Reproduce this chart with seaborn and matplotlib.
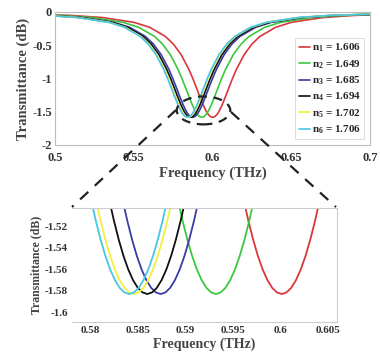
import numpy as np
import pandas as pd
import matplotlib
matplotlib.use('Agg')
import matplotlib.pyplot as plt
import seaborn as sns
from matplotlib.patches import Ellipse
from matplotlib.lines import Line2D

# ---------------- data ----------------
labels = ["n$_1$ = 1.606", "n$_2$ = 1.649", "n$_3$ = 1.685",
          "n$_4$ = 1.694", "n$_5$ = 1.702", "n$_6$ = 1.706"]
centers = [0.6001, 0.5932, 0.5874, 0.5860, 0.5846, 0.5841]   # THz, dip positions
colors = ['#d8383c', '#3cc83e', '#3b3ba6', '#111111', '#f2f03c', '#48c6e6']

# dip profile (offset from dip centre in THz, transmittance in dB)
offsets = [-0.12, -0.09, -0.07, -0.05, -0.04, -0.03, -0.025, -0.02, -0.015, -0.0125,
           -0.01, -0.008, -0.006, -0.0045, -0.004, -0.0035, -0.003, -0.0025, -0.002,
           -0.0015, -0.001, -0.0005, 0.0, 0.0005, 0.001, 0.0015, 0.002, 0.0025, 0.003,
           0.0035, 0.004, 0.0045, 0.006, 0.008, 0.01, 0.0125, 0.015, 0.02, 0.025, 0.03,
           0.04, 0.05, 0.07, 0.09, 0.12]
profile_db = [-0.0294, -0.0515, -0.0833, -0.1555, -0.2302, -0.3676, -0.4803, -0.6411,
              -0.8667, -1.0058, -1.1578, -1.2817, -1.3981, -1.4734, -1.4951, -1.5148,
              -1.5323, -1.5475, -1.5601, -1.5700, -1.5772, -1.5815, -1.5830, -1.5815,
              -1.5772, -1.5700, -1.5601, -1.5475, -1.5323, -1.5148, -1.4951, -1.4734,
              -1.3981, -1.2817, -1.1578, -1.0058, -0.8667, -0.6411, -0.4803, -0.3676,
              -0.2302, -0.1555, -0.0833, -0.0515, -0.0294]

top_xticks = [0.5, 0.55, 0.6, 0.65, 0.7]
top_yticks = [0, -0.5, -1, -1.5, -2]
top_yticklabels = ['0', '-0.5', '-1', '-1.5', '-2']
bot_xticks = [0.58, 0.585, 0.59, 0.595, 0.6, 0.605]
bot_xticklabels = ['0.58', '0.585', '0.59', '0.595', '0.6', '0.605']
bot_yticks = [-1.52, -1.54, -1.56, -1.58, -1.6]
bot_yticklabels = ['-1.52', '-1.54', '-1.56', '-1.58', '-1.6']

rows = []
for lab, c in zip(labels, centers):
    for o, v in zip(offsets, profile_db):
        rows.append((lab, c + o, v))
df = pd.DataFrame(rows, columns=['label', 'freq', 'dB'])

# ---------------- style ----------------
sns.set_style('white')
plt.rcParams['font.family'] = ['Liberation Serif', 'DejaVu Serif']
plt.rcParams['font.weight'] = 'bold'
plt.rcParams['mathtext.fontset'] = 'custom'
plt.rcParams['mathtext.rm'] = 'Liberation Serif:bold'
plt.rcParams['mathtext.it'] = 'Liberation Serif:bold'
plt.rcParams['mathtext.bf'] = 'Liberation Serif:bold'

W, H = 380, 354
fig = plt.figure(figsize=(W / 100, H / 100), dpi=100)

def fx(px):
    return px / W

def fy(py):
    return 1 - py / H

palette = dict(zip(labels, colors))

# ---------------- top axes ----------------
ax1 = fig.add_axes([fx(55), fy(145), fx(370) - fx(55), fy(12) - fy(145)])
sns.lineplot(data=df, x='freq', y='dB', hue='label', palette=palette,
             estimator=None, sort=False, lw=1.2, ax=ax1)
ax1.set_xlim(0.5, 0.7)
ax1.set_ylim(-2, 0)
ax1.set_xticks(top_xticks)
ax1.set_xticklabels([str(t) for t in top_xticks])
ax1.set_yticks(top_yticks)
ax1.set_yticklabels(top_yticklabels)
ax1.tick_params(axis='y', direction='in', length=2, labelsize=9, pad=2, colors='#333333')
ax1.tick_params(axis='x', direction='in', length=2, labelsize=9, pad=5, colors='#333333')
for lab in ax1.get_xticklabels() + ax1.get_yticklabels():
    lab.set_fontweight('bold')
ax1.set_xlabel('Frequency (THz)', fontsize=10.5, fontweight='bold', color='#444444', labelpad=2)
ax1.set_ylabel('Transmittance (dB)', fontsize=10.5, fontweight='bold', color='#444444', labelpad=2)
for s in ax1.spines.values():
    s.set_color('#bbbbbb')
    s.set_linewidth(0.8)
leg = ax1.legend(loc='lower right', fontsize=8, frameon=True, handlelength=1.0,
                 handletextpad=0.2, labelspacing=0.35, borderpad=0.3,
                 prop={'weight': 'bold', 'size': 8})
leg.get_frame().set_edgecolor('#cccccc')
leg.get_frame().set_linewidth(0.6)
leg.get_frame().set_boxstyle('square', pad=0.0)

ell = Ellipse((0.5943, -1.48), width=0.034, height=0.42, fill=False, ls=(0, (4, 3)),
              lw=1.6, ec='#222222', clip_on=False, zorder=5)
ax1.add_patch(ell)

# ---------------- bottom (zoom) axes ----------------
ax2 = fig.add_axes([fx(72), fy(322), fx(337) - fx(72), fy(208) - fy(322)])
sns.lineplot(data=df, x='freq', y='dB', hue='label', palette=palette,
             estimator=None, sort=False, lw=1.3, ax=ax2, legend=False)
ax2.set_xlim(0.5781, 0.6059)
ax2.set_ylim(-1.609, -1.503)
ax2.set_xticks(bot_xticks)
ax2.set_xticklabels(bot_xticklabels)
ax2.set_yticks(bot_yticks)
ax2.set_yticklabels(bot_yticklabels)
ax2.tick_params(direction='in', length=2, labelsize=8, pad=3, colors='#333333')
for lab in ax2.get_xticklabels() + ax2.get_yticklabels():
    lab.set_fontweight('bold')
ax2.set_xlabel('Frequency (THz)', fontsize=10, fontweight='bold', color='#444444', labelpad=2)
ax2.set_ylabel('Transmittance (dB)', fontsize=8.5, fontweight='bold', color='#444444', labelpad=2)
for k, s in ax2.spines.items():
    s.set_color('#cccccc')
    s.set_linewidth(0.8)
ax2.spines['left'].set_visible(False)

# ---------------- connecting dashed lines ----------------
for (x0, y0), (x1, y1) in [((176, 110), (72, 207)), ((231, 112), (336, 207))]:
    fig.add_artist(Line2D([fx(x0), fx(x1)], [fy(y0), fy(y1)], transform=fig.transFigure,
                          color='#222222', lw=1.6, ls=(0, (5, 4))))

fig.savefig('out.png', dpi=100)
